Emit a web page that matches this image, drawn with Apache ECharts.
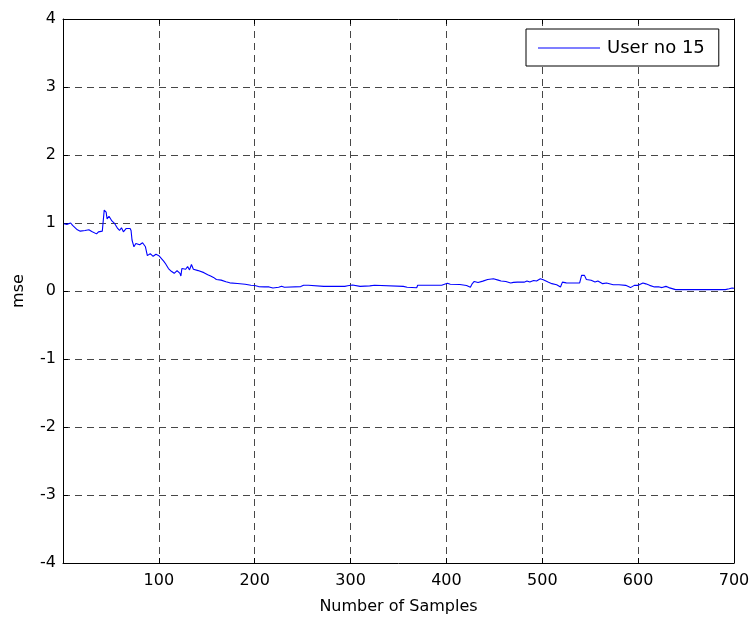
<!DOCTYPE html>
<html>
<head>
<meta charset="utf-8">
<script src="https://cdn.jsdelivr.net/npm/echarts@6/dist/echarts.min.js"></script>
<style>html,body{margin:0;padding:0;background:#fff}#c{width:754px;height:620px}</style>
</head>
<body>
<div id="c"></div>
<script>
const seriesName = 'User no 15';
const xTitle = 'Number of Samples';
const yTitle = 'mse';
const samples = [1,4,6,8,10,12,15,18,23,27,30,35,36,37,41,42,43,45,46,48,51,54,57,59,61,63,66,70,71,72,74,76,80,83,86,88,91,94,97,100,102,105,107,110,113,116,119,122,123,124,128,130,132,134,136,141,147,151,154,157,160,165,170,174,182,190,196,198,200,204,210,215,217,219,221,225,228,231,233,248,251,253,256,258,272,274,276,294,297,299,302,304,310,320,325,327,355,357,359,369,370,395,398,401,404,414,421,425,427,429,433,438,443,449,454,457,462,467,470,474,481,484,487,491,494,498,501,506,510,515,519,521,525,532,539,541,544,546,551,555,558,563,567,574,580,587,589,592,596,600,605,608,612,617,622,625,629,632,639,691,695,698,700];
const mse = [0.99,0.98,0.97,1.00,0.965,0.95,0.90,0.88,0.89,0.90,0.875,0.84,0.82,0.87,0.88,0.87,1.19,1.16,1.06,1.10,1.03,0.99,0.92,0.89,0.93,0.87,0.92,0.92,0.89,0.75,0.65,0.70,0.68,0.71,0.65,0.52,0.55,0.51,0.54,0.52,0.53,0.44,0.40,0.33,0.29,0.26,0.30,0.26,0.22,0.33,0.32,0.36,0.31,0.39,0.32,0.30,0.27,0.24,0.22,0.20,0.17,0.16,0.135,0.12,0.11,0.10,0.085,0.065,0.08,0.065,0.06,0.06,0.065,0.045,0.07,0.055,0.07,0.055,0.07,0.065,0.085,0.07,0.085,0.065,0.068,0.085,0.068,0.068,0.078,0.055,0.088,0.09,0.068,0.075,0.085,0.068,0.068,0.09,0.055,0.048,0.085,0.085,0.10,0.115,0.10,0.095,0.08,0.055,0.11,0.14,0.125,0.145,0.17,0.18,0.16,0.147,0.14,0.118,0.127,0.13,0.13,0.147,0.132,0.155,0.147,0.18,0.165,0.132,0.108,0.093,0.059,0.13,0.12,0.118,0.12,0.23,0.23,0.17,0.157,0.132,0.147,0.108,0.118,0.093,0.093,0.083,0.108,0.05,0.083,0.083,0.118,0.105,0.083,0.06,0.06,0.05,0.068,0.05,0.02,0.02,0.034,0.045,0.04];
const xTicks = {min: 0, max: 700, step: 100};
const yTicks = {min: -4, max: 4, step: 1};

const font = 'DejaVu Sans';
const chart = echarts.init(document.getElementById('c'), null, {renderer: 'canvas'});
const lineData = samples.map((s, i) => [s, mse[i]]);
const gridLine = {show: true, lineStyle: {color: '#474747', type: [7, 5], width: 1}};
const axLine = {show: true, onZero: false, lineStyle: {color: '#000', width: 1}};
const axTick = {show: true, inside: true, length: 5, lineStyle: {color: '#000'}};

chart.setOption({
  backgroundColor: '#fff',
  animation: false,
  grid: {left: 63, right: 20, top: 19, bottom: 57, containLabel: false},
  legend: {
    data: [{name: seriesName, icon: 'rect'}],
    left: 526, top: 29,
    itemWidth: 62, itemHeight: 1,
    padding: [10, 14, 9, 12],
    borderColor: '#000', borderWidth: 1, backgroundColor: '#fff',
    textStyle: {fontFamily: font, fontSize: 18, color: '#000', padding: [0, 0, 0, 2]}
  },
  xAxis: [{
    type: 'value', min: xTicks.min, max: xTicks.max, interval: xTicks.step,
    name: xTitle, nameLocation: 'middle', nameGap: 36,
    nameTextStyle: {fontFamily: font, fontSize: 16, color: '#000'},
    axisLine: axLine, axisTick: axTick, splitLine: gridLine,
    axisLabel: {fontFamily: font, fontSize: 16, color: '#000', margin: 10,
      formatter: v => v === 0 ? '' : String(v)}
  }, {
    type: 'value', position: 'top', min: xTicks.min, max: xTicks.max, interval: xTicks.step,
    axisLine: axLine, axisTick: axTick, splitLine: {show: false}, axisLabel: {show: false}
  }],
  yAxis: [{
    type: 'value', min: yTicks.min, max: yTicks.max, interval: yTicks.step,
    name: yTitle, nameLocation: 'middle', nameGap: 36,
    nameTextStyle: {fontFamily: font, fontSize: 16, color: '#000'},
    axisLine: axLine, axisTick: axTick, splitLine: gridLine,
    axisLabel: {fontFamily: font, fontSize: 16, color: '#000', margin: 7}
  }, {
    type: 'value', position: 'right', min: yTicks.min, max: yTicks.max, interval: yTicks.step,
    axisLine: axLine, axisTick: axTick, splitLine: {show: false}, axisLabel: {show: false}
  }],
  series: [{
    name: seriesName, type: 'line', data: lineData,
    showSymbol: false, symbol: 'none',
    lineStyle: {color: '#0000ff', width: 1.1}, itemStyle: {color: '#0000ff'},
    xAxisIndex: 0, yAxisIndex: 0
  }]
});
</script>
</body>
</html>
